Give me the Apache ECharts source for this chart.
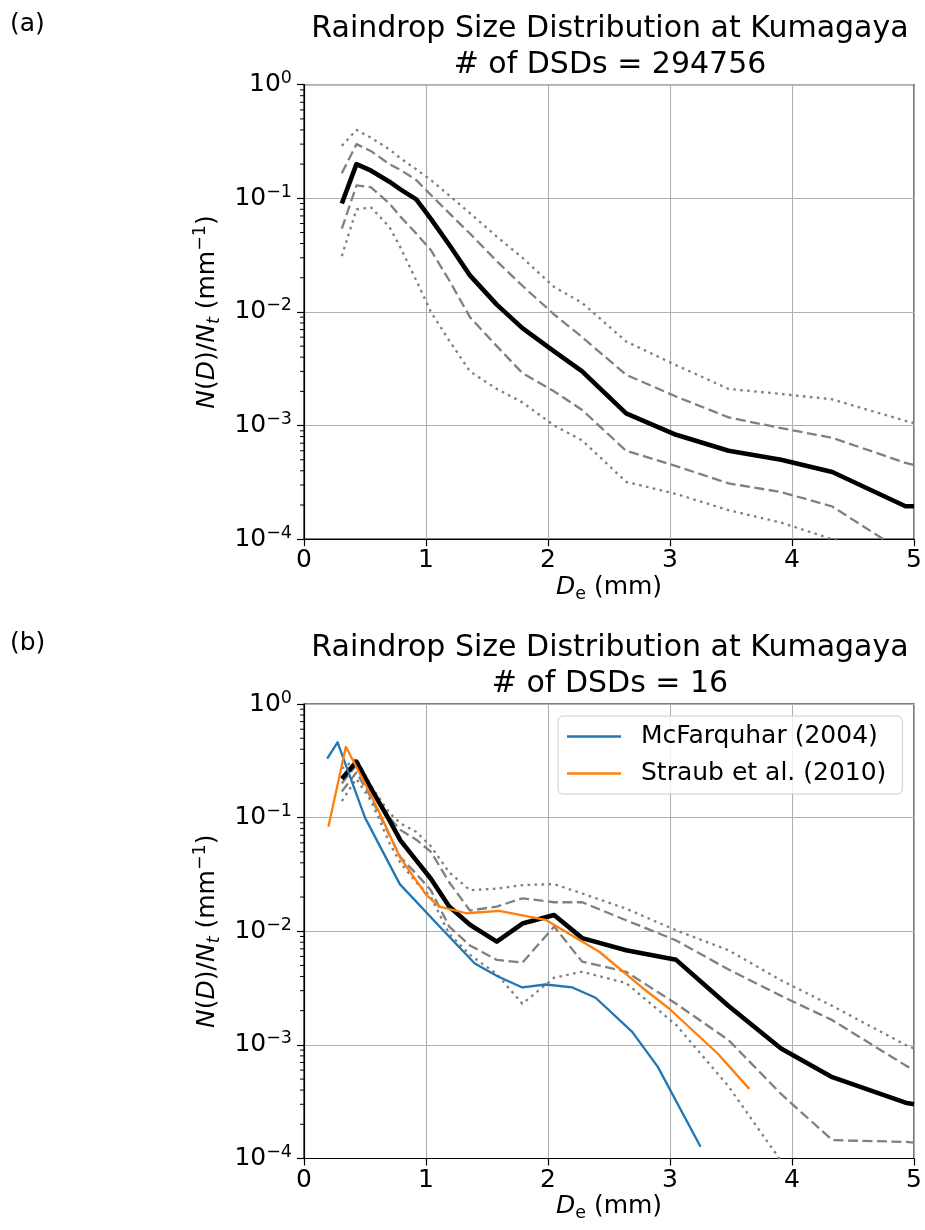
<!DOCTYPE html>
<html>
<head>
<meta charset="utf-8">
<script src="https://cdn.jsdelivr.net/npm/echarts@6/dist/echarts.min.js"></script>
<style>
  html, body { margin: 0; padding: 0; background: #fff; }
  #chart { width: 925px; height: 1230px; }
</style>
</head>
<body>
<div id="chart"></div>
<script>
// size bins (mm) shared by the percentile curves of both panels
const bins = [0.31, 0.43, 0.55, 0.70, 0.79, 0.92, 1.04, 1.19, 1.36, 1.58, 1.79, 2.05, 2.28, 2.64, 3.05, 3.48, 3.91, 4.33, 4.93, 5.0];

// panel (a): all DSDs
const aMean = [0.090, 0.20, 0.175, 0.14, 0.12, 0.098, 0.066, 0.039, 0.021, 0.0116, 0.0072, 0.0045, 0.0030, 0.00128, 0.00083, 0.0006, 0.0005, 0.00039, 0.000195, 0.000195];
const aP90 = [0.29, 0.40, 0.34, 0.27, 0.225, 0.18, 0.145, 0.106, 0.074, 0.046, 0.030, 0.0166, 0.012, 0.0055, 0.0034, 0.0021, 0.0019, 0.0017, 0.0011, 0.00105];
const aP75 = [0.166, 0.30, 0.26, 0.20, 0.178, 0.145, 0.107, 0.074, 0.049, 0.028, 0.017, 0.0095, 0.006, 0.0028, 0.0018, 0.00118, 0.00095, 0.00078, 0.00047, 0.00045];
const aP25 = [0.054, 0.13, 0.125, 0.09, 0.069, 0.049, 0.035, 0.019, 0.009, 0.005, 0.0029, 0.002, 0.00137, 0.0006, 0.00044, 0.00031, 0.00026, 0.000194, 0.000075, 0.00007];
const aP10 = [0.031, 0.08, 0.083, 0.056, 0.037, 0.019, 0.01, 0.0056, 0.003, 0.0021, 0.0016, 0.001, 0.00074, 0.00032, 0.00025, 0.00018, 0.00014, 0.0001, 0.00006, 0.000055];

// panel (b): 16 DSDs
const bMean = [0.22, 0.31, 0.18, 0.095, 0.063, 0.042, 0.029, 0.0165, 0.0114, 0.0081, 0.0117, 0.0139, 0.0087, 0.0068, 0.0056, 0.0022, 0.00093, 0.00052, 0.00031, 0.0003];
const bP90 = [0.27, 0.33, 0.19, 0.11, 0.089, 0.075, 0.056, 0.033, 0.023, 0.0237, 0.0255, 0.026, 0.0215, 0.0158, 0.0102, 0.0068, 0.0037, 0.0022, 0.001, 0.00093];
const bP75 = [0.20, 0.29, 0.18, 0.10, 0.078, 0.064, 0.05, 0.027, 0.0152, 0.0165, 0.0195, 0.018, 0.018, 0.0125, 0.0083, 0.0046, 0.0027, 0.00165, 0.00066, 0.0006];
const bP25 = [0.17, 0.25, 0.15, 0.07, 0.045, 0.032, 0.023, 0.011, 0.0075, 0.0056, 0.0053, 0.011, 0.0054, 0.0044, 0.0023, 0.0011, 0.00037, 0.000145, 0.00014, 0.000138];
const bP10 = [0.14, 0.22, 0.14, 0.06, 0.04, 0.027, 0.02, 0.0095, 0.0062, 0.0042, 0.0023, 0.0039, 0.0044, 0.0035, 0.0015, 0.00043, 0.000095, 0.00003, 0.00001, 0.00001];

// reference distributions
const mcfX = [0.19, 0.275, 0.50, 0.785, 1.14, 1.40, 1.59, 1.79, 1.98, 2.20, 2.39, 2.69, 2.90, 3.25];
const mcfY = [0.33, 0.46, 0.10, 0.026, 0.0102, 0.0052, 0.0040, 0.0032, 0.0034, 0.0032, 0.0026, 0.0013, 0.00064, 0.000127];
const strX = [0.20, 0.343, 0.50, 0.62, 0.785, 1.0, 1.11, 1.33, 1.60, 1.98, 2.42, 2.77, 2.99, 3.39, 3.65];
const strY = [0.083, 0.42, 0.20, 0.11, 0.045, 0.021, 0.0165, 0.0144, 0.0151, 0.0126, 0.0066, 0.0032, 0.0021, 0.00084, 0.00041];

const titleLine1 = 'Raindrop Size Distribution at Kumagaya';
const countA = 294756;
const countB = 16;

const FONT = 'DejaVu Sans';
const zip = (xs, ys) => xs.map((x, i) => [x, ys[i]]);

// matplotlib-like minor ticks at 2..9 x 10^n
const minorVals = [];
for (let e = -4; e < 0; e++) {
  for (let m = 2; m <= 9; m++) minorVals.push([0, m * Math.pow(10, e)]);
}

const tickRich = {
  m: { fontSize: 25, fontFamily: FONT, color: '#000', lineHeight: 30 },
  s: { fontSize: 17.5, fontFamily: FONT, color: '#000', lineHeight: 18, verticalAlign: 'top' },
};
const nameRich = {
  i: { fontSize: 25, fontFamily: FONT, fontStyle: 'italic', color: '#000', lineHeight: 32 },
  r: { fontSize: 25, fontFamily: FONT, color: '#000', lineHeight: 32 },
  sub: { fontSize: 17.5, fontFamily: FONT, fontStyle: 'italic', color: '#000', lineHeight: 20, verticalAlign: 'bottom' },
  subr: { fontSize: 17.5, fontFamily: FONT, color: '#000', lineHeight: 20, verticalAlign: 'bottom' },
  sup: { fontSize: 17.5, fontFamily: FONT, color: '#000', lineHeight: 18, verticalAlign: 'top' },
};

const gridTops = [84.7, 704];

function xAxisFor(i) {
  return {
    type: 'value', gridIndex: i, min: 0, max: 5, interval: 1,
    axisLine: { show: true, onZero: false, lineStyle: { color: '#000', width: 1.2 } },
    axisTick: { show: true, length: 7, lineStyle: { color: '#000', width: 1.2 } },
    axisLabel: { fontSize: 25, fontFamily: FONT, color: '#000', margin: 9 },
    splitLine: { show: true, lineStyle: { color: '#b0b0b0', width: 1.1 } },
    name: '{i|D}{subr|e}{r| (mm)}',
    nameLocation: 'middle', nameGap: 32,
    nameTextStyle: { rich: nameRich },
  };
}

function yAxisFor(i) {
  return {
    type: 'log', logBase: 10, gridIndex: i, min: 1e-4, max: 1,
    axisLine: { show: true, lineStyle: { color: '#000', width: 1.2 } },
    axisTick: { show: true, length: 7, lineStyle: { color: '#000', width: 1.2 } },
    axisLabel: {
      margin: 12,
      formatter: (v) => {
        const e = Math.round(Math.log10(v));
        return '{m|10}{s|' + String(e).replace('-', '\u2212') + '}';
      },
      rich: tickRich,
    },
    splitLine: { show: true, lineStyle: { color: '#b0b0b0', width: 1.1 } },
    name: '{i|N}{r|(}{i|D}{r|)/}{i|N}{sub|t}{r| (mm}{sup|\u22121}{r|)}',
    nameLocation: 'middle', nameGap: 72, nameRotate: 90,
    nameTextStyle: { rich: nameRich },
  };
}

function pctLine(data, i, dash) {
  return {
    type: 'line', xAxisIndex: i, yAxisIndex: i, data: zip(bins, data),
    symbol: 'none', silent: true, z: 2,
    lineStyle: { color: '#808080', width: 2.3, type: dash, join: 'round' },
  };
}

function meanLine(data, i) {
  return {
    type: 'line', xAxisIndex: i, yAxisIndex: i, data: zip(bins, data),
    symbol: 'none', silent: true, z: 3,
    lineStyle: { color: '#000', width: 4.6, join: 'round' },
  };
}

function minorTicks(i) {
  return {
    type: 'custom', xAxisIndex: i, yAxisIndex: i, data: minorVals, silent: true, clip: false, z: 5,
    renderItem: (params, api) => {
      const p = api.coord([0, api.value(1)]);
      return {
        type: 'line',
        shape: { x1: p[0] - 4, y1: p[1], x2: p[0], y2: p[1] },
        style: { stroke: '#000', lineWidth: 1 },
      };
    },
  };
}

const dashed = [10, 4.5];
const dotted = [2.6, 4.4];

function titleText(cy, line1, line2) {
  return [
    { type: 'text', x: 610, y: cy, style: { text: line1, fontSize: 30, fontFamily: FONT, fill: '#000', align: 'center', verticalAlign: 'middle' } },
    { type: 'text', x: 610, y: cy + 36, style: { text: line2, fontSize: 30, fontFamily: FONT, fill: '#000', align: 'center', verticalAlign: 'middle' } },
  ];
}

const chart = echarts.init(document.getElementById('chart'), null, { renderer: 'canvas' });

chart.setOption({
  animation: false,
  backgroundColor: '#fff',
  textStyle: { fontFamily: FONT },
  grid: gridTops.map((t) => ({
    left: 304, right: 9.5, top: t, height: 454.5,
    show: true, borderColor: '#000', borderWidth: 1.2, backgroundColor: 'transparent',
  })),
  xAxis: [xAxisFor(0), xAxisFor(1)],
  yAxis: [yAxisFor(0), yAxisFor(1)],
  legend: {
    data: ['McFarquhar (2004)', 'Straub et al. (2010)'],
    orient: 'vertical', left: 558, top: 716,
    padding: [8, 16, 8, 9],
    itemWidth: 54, itemHeight: 2.4, itemGap: 12, icon: 'rect',
    textStyle: { fontSize: 25, fontFamily: FONT, color: '#000', padding: [0, 0, 0, 15] },
    backgroundColor: 'rgba(255,255,255,0.8)', borderColor: '#cccccc', borderWidth: 1, borderRadius: 5,
  },
  graphic: [
    { type: 'text', x: 10, y: 24, style: { text: '(a)', fontSize: 25, fontFamily: FONT, fill: '#000', verticalAlign: 'middle' } },
    { type: 'text', x: 10, y: 643, style: { text: '(b)', fontSize: 25, fontFamily: FONT, fill: '#000', verticalAlign: 'middle' } },
    ...titleText(29, titleLine1, '# of DSDs = ' + countA),
    ...titleText(648, titleLine1, '# of DSDs = ' + countB),
  ],
  series: [
    pctLine(aP90, 0, dotted),
    pctLine(aP75, 0, dashed),
    pctLine(aP25, 0, dashed),
    pctLine(aP10, 0, dotted),
    meanLine(aMean, 0),
    minorTicks(0),
    pctLine(bP90, 1, dotted),
    pctLine(bP75, 1, dashed),
    pctLine(bP25, 1, dashed),
    pctLine(bP10, 1, dotted),
    meanLine(bMean, 1),
    {
      name: 'McFarquhar (2004)', type: 'line', xAxisIndex: 1, yAxisIndex: 1,
      data: zip(mcfX, mcfY), symbol: 'none', z: 4,
      itemStyle: { color: '#1f77b4' },
      lineStyle: { color: '#1f77b4', width: 2.3, join: 'round' },
    },
    {
      name: 'Straub et al. (2010)', type: 'line', xAxisIndex: 1, yAxisIndex: 1,
      data: zip(strX, strY), symbol: 'none', z: 4,
      itemStyle: { color: '#ff7f0e' },
      lineStyle: { color: '#ff7f0e', width: 2.3, join: 'round' },
    },
    minorTicks(1),
  ],
});
</script>
</body>
</html>
